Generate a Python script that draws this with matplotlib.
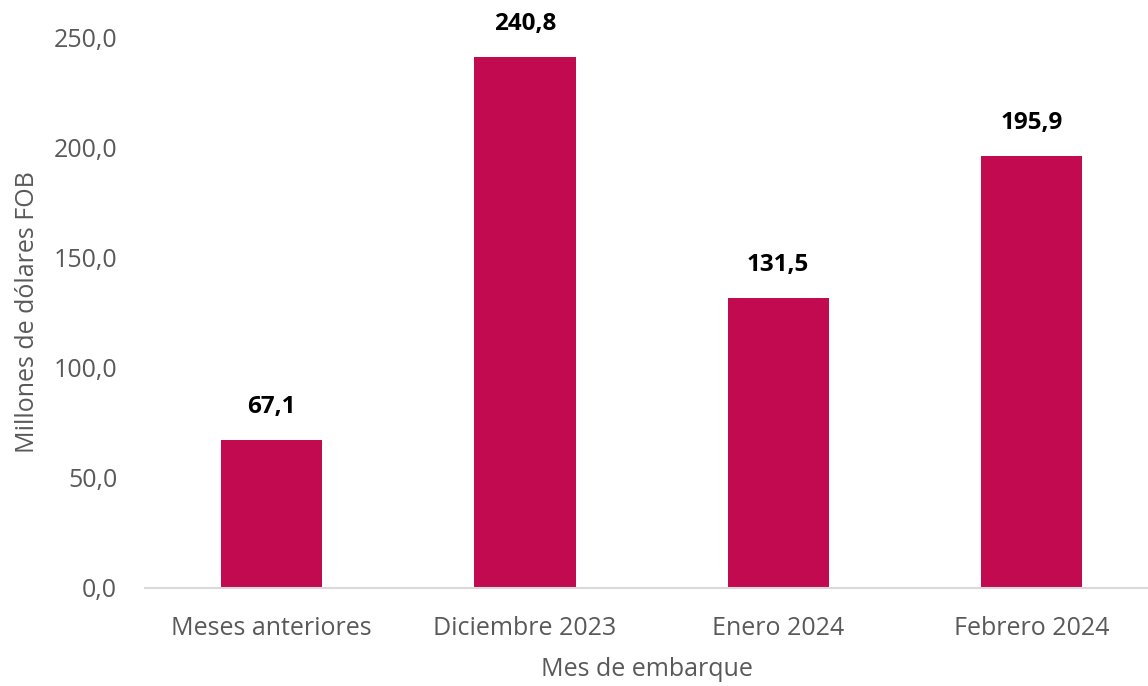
import matplotlib.pyplot as plt
from matplotlib.ticker import FuncFormatter

plt.rcParams['font.family'] = ['Open Sans', 'DejaVu Sans']

categories = ["Meses anteriores", "Diciembre 2023", "Enero 2024", "Febrero 2024"]
values = [67.1, 240.8, 131.5, 195.9]
yticks = [0, 50, 100, 150, 200, 250]

bar_color = "#C20A50"
text_gray = "#595959"

fig = plt.figure(figsize=(11.48, 6.86), dpi=100)
ax = fig.add_axes([145 / 1148, 98 / 686, 1003 / 1148, 551 / 686])

x = list(range(len(categories)))
ax.bar(x, values, width=0.4, color=bar_color)

# value labels above bars
for xi, v in zip(x, values):
    ax.annotate(f"{v:.1f}".replace(".", ","), (xi, v), xytext=(0, 15),
                textcoords="offset points", ha="center", va="bottom",
                fontsize=17.5, fontweight="bold", color="black")

ax.set_xlim(-0.5, 3.46)
ax.set_ylim(0, 250)
ax.set_yticks(yticks)
ax.yaxis.set_major_formatter(FuncFormatter(lambda v, p: f"{v:.1f}".replace(".", ",")))
ax.set_xticks(x)
ax.set_xticklabels(categories)

for s in ["top", "right", "left"]:
    ax.spines[s].set_visible(False)
ax.spines["bottom"].set_color("#D9D9D9")
ax.spines["bottom"].set_linewidth(1.5)

ax.tick_params(axis="both", length=0, labelsize=18, labelcolor=text_gray)
ax.tick_params(axis="y", pad=20)
ax.tick_params(axis="x", pad=20)

ax.set_xlabel("Mes de embarque", fontsize=18, color=text_gray, labelpad=12)
ax.set_ylabel("Millones de dólares FOB", fontsize=18, color=text_gray, labelpad=10)

fig.savefig("out.png", dpi=100)
